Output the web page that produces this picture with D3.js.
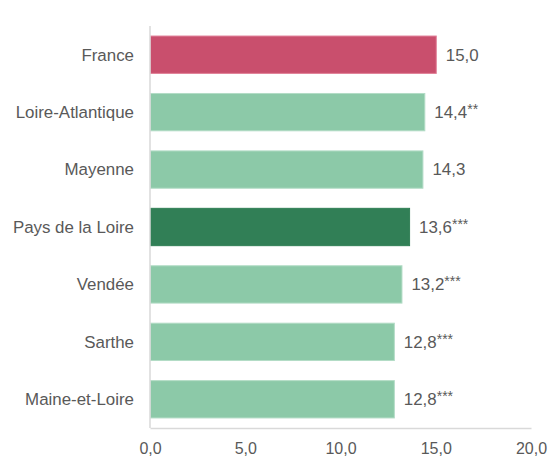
<!DOCTYPE html>
<html>
<head>
<meta charset="utf-8">
<script src="https://cdn.jsdelivr.net/npm/d3@7"></script>
<style>
  body { margin: 0; background: #fff; }
  text { font-family: "Liberation Sans", Arial, sans-serif; fill: #595959; }
</style>
</head>
<body>
<script>
  // data
  var categories = ["France", "Loire-Atlantique", "Mayenne", "Pays de la Loire", "Vendée", "Sarthe", "Maine-et-Loire"];
  var values = [15.0, 14.4, 14.3, 13.6, 13.2, 12.8, 12.8];
  var stars = ["", "**", "", "***", "***", "***", "***"];
  var kinds = ["france", "dep", "dep", "region", "dep", "dep", "dep"];
  var ticks = [0, 5, 10, 15, 20];

(function() {
  var colors = { france: "#c94f6d", dep: "#8cc9a8", region: "#317f56" };
  var edges = { france: "#e07d95", dep: "#b3dcc6", region: "#317f56" };

  var w = 555, h = 458;
  var mLeft = 150, mRight = 531, mTop = 26, mBottom = 428;
  var fs = 16.9; // label font size

  var svg = d3.select("body").append("svg")
    .attr("width", w)
    .attr("height", h);

  var x = d3.scaleLinear().domain([0, 20]).range([mLeft, mRight]);
  var y = d3.scaleBand().domain(categories).range([mTop, mBottom]).paddingInner(0.35).paddingOuter(0.175);

  var rows = categories.map(function(c, i) {
    return { cat: c, val: values[i], star: stars[i], kind: kinds[i] };
  });

  // bars
  svg.selectAll("rect.bar")
    .data(rows)
    .enter().append("rect")
    .attr("class", "bar")
    .attr("x", x(0) + 0.5)
    .attr("y", function(d) { return y(d.cat); })
    .attr("width", function(d) { return x(d.val) - x(0); })
    .attr("height", y.bandwidth())
    .attr("fill", function(d) { return colors[d.kind]; })
    .attr("stroke", function(d) { return edges[d.kind]; })
    .attr("stroke-width", 1);

  // category labels
  svg.selectAll("text.cat")
    .data(rows)
    .enter().append("text")
    .attr("class", "cat")
    .attr("x", mLeft - 16)
    .attr("y", function(d) { return y(d.cat) + y.bandwidth() / 2; })
    .attr("dy", "0.35em")
    .attr("text-anchor", "end")
    .attr("font-size", fs + "px")
    .text(function(d) { return d.cat; });

  // value labels with stars
  var lab = svg.selectAll("text.val")
    .data(rows)
    .enter().append("text")
    .attr("class", "val")
    .attr("x", function(d) { return x(d.val) + 10; })
    .attr("y", function(d) { return y(d.cat) + y.bandwidth() / 2; })
    .attr("dy", "0.35em")
    .attr("font-size", fs + "px");
  lab.append("tspan")
    .text(function(d) { return d3.format(".1f")(d.val).replace(".", ","); });
  lab.append("tspan")
    .attr("font-size", "14px")
    .attr("dy", "-0.3em")
    .text(function(d) { return d.star; });

  // axes
  var xAxis = d3.axisBottom(x)
    .tickValues(ticks)
    .tickSize(0)
    .tickPadding(15)
    .tickFormat(function(d) { return d3.format(".1f")(d).replace(".", ","); });

  var gx = svg.append("g")
    .attr("transform", "translate(0," + mBottom + ")")
    .call(xAxis);
  gx.select(".domain").attr("stroke", "#d9d9d9").attr("stroke-width", 1.5);
  gx.selectAll("text")
    .attr("font-size", "16px")
    .attr("font-family", "Liberation Sans, Arial, sans-serif")
    .attr("fill", "#595959");

  svg.append("line")
    .attr("x1", mLeft).attr("x2", mLeft)
    .attr("y1", mTop).attr("y2", mBottom)
    .attr("stroke", "#d9d9d9")
    .attr("stroke-width", 1.5);
})();
</script>
</body>
</html>
